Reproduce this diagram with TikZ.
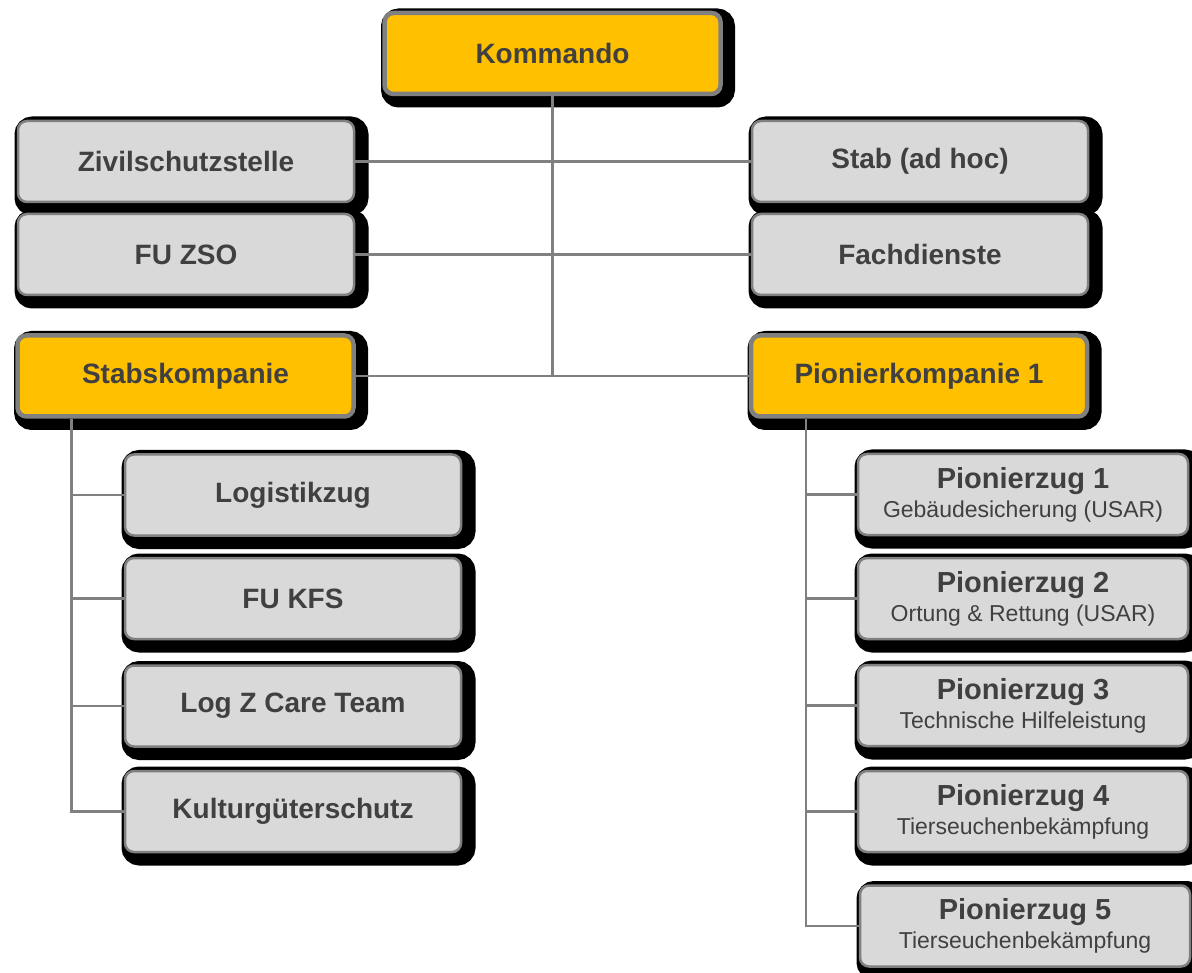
\documentclass[tikz,border=0pt]{standalone}
\usepackage{fontspec}
\setmainfont{Liberation Sans}
\usepackage{tikz}
\definecolor{kmdyellow}{HTML}{FFC000}
\definecolor{boxgray}{HTML}{D9D9D9}
\definecolor{rimgray}{HTML}{808080}
\definecolor{txtgray}{HTML}{404040}

\begin{document}
\begin{tikzpicture}[x=1pt, y=-1pt,
	box/.style={rectangle, rounded corners=9pt, minimum width=336pt, minimum height=81pt,
		inner sep=0pt, align=center, text=txtgray, font=\fontsize{28}{32}\selectfont\bfseries,
		preaction={fill=black, draw=black, line width=18pt, transform canvas={shift={(5.5pt,-4.5pt)}}}},
	yellowbox/.style={box, fill=kmdyellow, draw=rimgray, line width=4.5pt},
	graybox/.style={box, fill=boxgray, draw=rimgray, line width=2.5pt},
	pzbox/.style={graybox, minimum width=330pt, font=\fontsize{29}{29}\selectfont\bfseries},
	conn/.style={draw=rimgray, line width=2.5pt}]
	\useasboundingbox (0,0) rectangle (1192,973);
	
	%Kommando
	\node[yellowbox] (kommando) at (552.5,53.5) {Kommando};
	
	%left side
	\node[graybox] (zivil) at (186,161.5) {Zivilschutzstelle};
	\node[graybox] (fuzso) at (186,254.5) {FU ZSO};
	\node[yellowbox] (stabskp) at (185.5,376) {Stabskompanie};
	
	%right side
	\node[graybox] (stab) at (920,161.5) {Stab (ad hoc)};
	\node[graybox] (fach) at (920,254.5) {Fachdienste};
	\node[yellowbox] (pionkp) at (919,376) {Pionierkompanie 1};
	
	%Stabskompanie units
	\node[graybox] (logistik) at (293,495) {Logistikzug};
	\node[graybox] (fukfs) at (293,598.5) {FU KFS};
	\node[graybox] (logz) at (293,706) {Log Z Care Team};
	\node[graybox] (kultur) at (293,811.5) {Kulturgüterschutz};
	
	%Pionierkompanie units
	\node[pzbox] (pz1) at (1023,494.5) {Pionierzug 1\\{\fontsize{23}{28}\selectfont\mdseries Gebäudesicherung (USAR)}};
	\node[pzbox] (pz2) at (1023,598.5) {Pionierzug 2\\{\fontsize{23}{28}\selectfont\mdseries Ortung \& Rettung (USAR)}};
	\node[pzbox] (pz3) at (1023,705.5) {Pionierzug 3\\{\fontsize{23}{28}\selectfont\mdseries Technische Hilfeleistung}};
	\node[pzbox] (pz4) at (1023,811.5) {Pionierzug 4\\{\fontsize{23}{28}\selectfont\mdseries Tierseuchenbekämpfung}};
	\node[pzbox] (pz5) at (1025,926) {Pionierzug 5\\{\fontsize{23}{28}\selectfont\mdseries Tierseuchenbekämpfung}};
	
	%connectors
	\draw[conn] (kommando.south) -- (kommando.south |- stabskp.east);
	\draw[conn] (zivil.east) -- (stab.west);
	\draw[conn] (fuzso.east) -- (fach.west);
	\draw[conn] (stabskp.east) -- (pionkp.west);
	
	\coordinate (lefttrunk) at ([xshift=56pt]stabskp.south west);
	\draw[conn] (lefttrunk) |- (kultur.west);
	\foreach \n in {logistik,fukfs,logz}
		\draw[conn] (lefttrunk |- \n.west) -- (\n.west);
	
	\coordinate (righttrunk) at ([xshift=57pt]pionkp.south west);
	\draw[conn] (righttrunk) |- (pz5.west);
	\foreach \n in {pz1,pz2,pz3,pz4}
		\draw[conn] (righttrunk |- \n.west) -- (\n.west);
	
\end{tikzpicture}
\end{document}
